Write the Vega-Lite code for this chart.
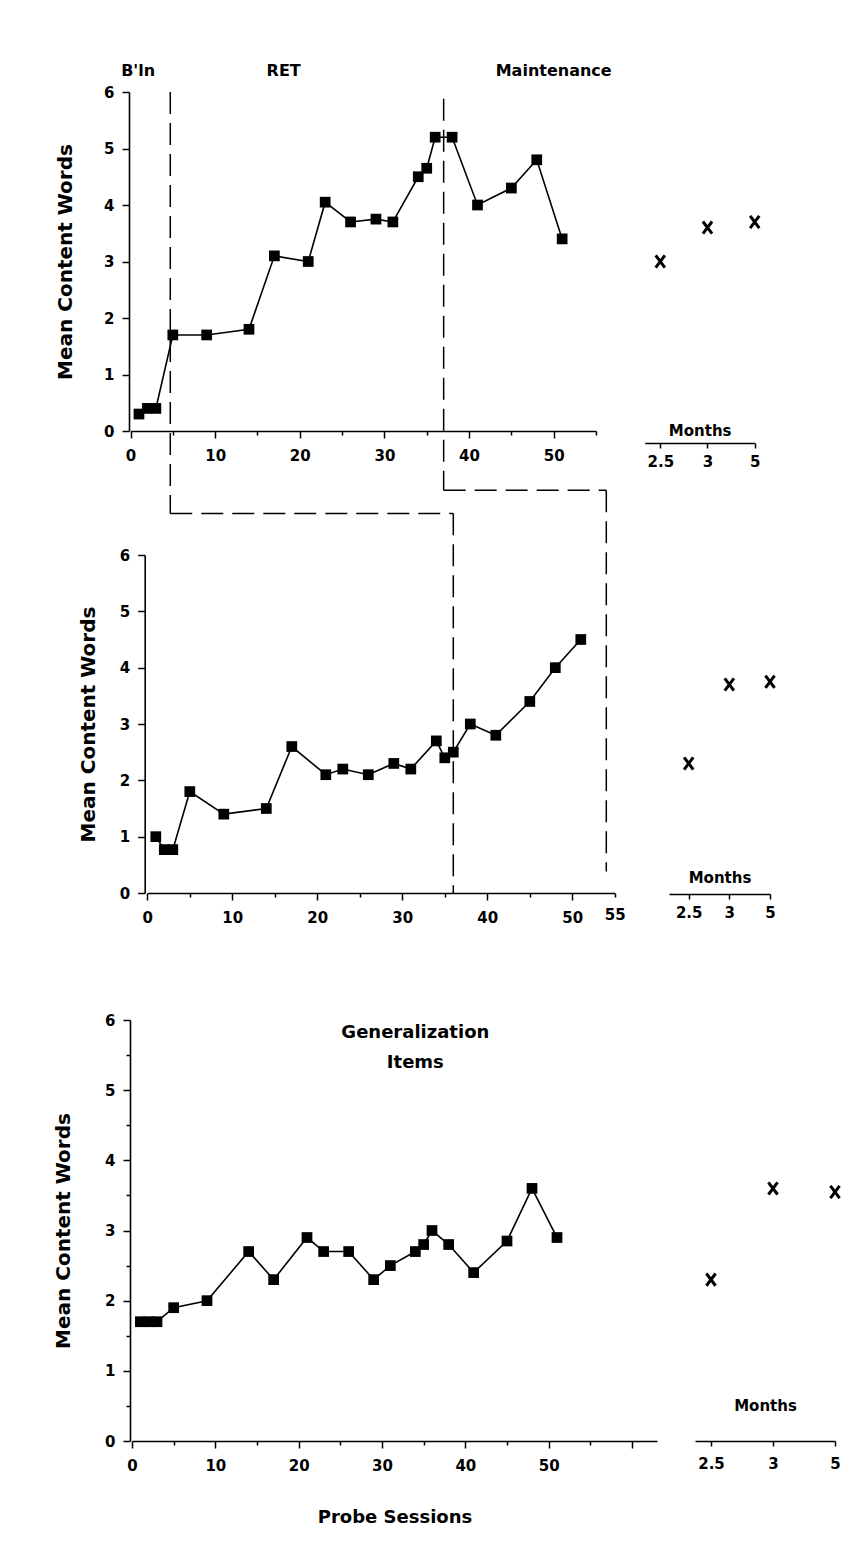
{
  "$schema": "https://vega.github.io/schema/vega-lite/v6.json",
  "background": "white",
  "padding": {"left": 53, "top": 0, "right": 5, "bottom": 5},
  "config": {
    "view": {"stroke": null},
    "axis": {
      "domainColor": "black", "domainWidth": 1.6, "tickColor": "black", "tickWidth": 1.5,
      "labelColor": "black", "labelFont": "DejaVu Sans", "labelFontWeight": "bold", "labelFontSize": 15,
      "titleFont": "DejaVu Sans", "titleFontWeight": "bold", "titleColor": "black",
      "grid": false, "labelOverlap": false, "labelFlush": false
    }
  },
  "datasets": {
    "p1": [
      {"session": 1, "value": 0.3}, {"session": 2, "value": 0.4}, {"session": 3, "value": 0.4},
      {"session": 5, "value": 1.7}, {"session": 9, "value": 1.7}, {"session": 14, "value": 1.8},
      {"session": 17, "value": 3.1}, {"session": 21, "value": 3.0}, {"session": 23, "value": 4.05},
      {"session": 26, "value": 3.7}, {"session": 29, "value": 3.75}, {"session": 31, "value": 3.7},
      {"session": 34, "value": 4.5}, {"session": 35, "value": 4.65}, {"session": 36, "value": 5.2},
      {"session": 38, "value": 5.2}, {"session": 41, "value": 4.0}, {"session": 45, "value": 4.3},
      {"session": 48, "value": 4.8}, {"session": 51, "value": 3.4}
    ],
    "p2": [
      {"session": 1, "value": 1.0}, {"session": 2, "value": 0.77}, {"session": 3, "value": 0.77},
      {"session": 5, "value": 1.8}, {"session": 9, "value": 1.4}, {"session": 14, "value": 1.5},
      {"session": 17, "value": 2.6}, {"session": 21, "value": 2.1}, {"session": 23, "value": 2.2},
      {"session": 26, "value": 2.1}, {"session": 29, "value": 2.3}, {"session": 31, "value": 2.2},
      {"session": 34, "value": 2.7}, {"session": 35, "value": 2.4}, {"session": 36, "value": 2.5},
      {"session": 38, "value": 3.0}, {"session": 41, "value": 2.8}, {"session": 45, "value": 3.4},
      {"session": 48, "value": 4.0}, {"session": 51, "value": 4.5}
    ],
    "p3": [
      {"session": 1, "value": 1.7}, {"session": 2, "value": 1.7}, {"session": 3, "value": 1.7},
      {"session": 5, "value": 1.9}, {"session": 9, "value": 2.0}, {"session": 14, "value": 2.7},
      {"session": 17, "value": 2.3}, {"session": 21, "value": 2.9}, {"session": 23, "value": 2.7},
      {"session": 26, "value": 2.7}, {"session": 29, "value": 2.3}, {"session": 31, "value": 2.5},
      {"session": 34, "value": 2.7}, {"session": 35, "value": 2.8}, {"session": 36, "value": 3.0},
      {"session": 38, "value": 2.8}, {"session": 41, "value": 2.4}, {"session": 45, "value": 2.85},
      {"session": 48, "value": 3.6}, {"session": 51, "value": 2.9}
    ],
    "fu1": [{"month": "2.5", "value": 3.0}, {"month": "3", "value": 3.6}, {"month": "5", "value": 3.7}],
    "fu2": [{"month": "2.5", "value": 2.3}, {"month": "3", "value": 3.7}, {"month": "5", "value": 3.75}],
    "fu3": [{"month": "2.5", "value": 2.3}, {"month": "3", "value": 3.6}, {"month": "5", "value": 3.55}],
    "phase1": [
      {"segment": "baseline end", "session": 4.7, "session2": 4.7, "value": 6.0, "value2": -1.46},
      {"segment": "baseline link", "session": 4.7, "session2": 38.1, "value": -1.46, "value2": -1.46},
      {"segment": "training end", "session": 37, "session2": 37, "value": 5.88, "value2": -1.05},
      {"segment": "training link", "session": 37, "session2": 56.2, "value": -1.05, "value2": -1.05}
    ],
    "phase2": [
      {"segment": "baseline end", "session": 36, "session2": 36, "value": 6.74, "value2": 0},
      {"segment": "training end", "session": 54, "session2": 54, "value": 7.15, "value2": 0.38}
    ],
    "labels1": [
      {"label": "B'ln", "session": 0.9, "value": 6.38},
      {"label": "RET", "session": 18.1, "value": 6.38},
      {"label": "Maintenance", "session": 50, "value": 6.38}
    ],
    "labels3": [
      {"label": "Generalization\nItems", "session": 34, "value": 5.95}
    ]
  },
  "columns": 2,
  "spacing": 0,
  "bounds": "flush",
  "align": "each",
  "concat": [
    {
      "width": 530, "height": 431,
      "layer": [
        {
          "data": {"name": "phase1"},
          "mark": {"type": "rule", "color": "black", "strokeWidth": 1.5, "strokeDash": [22, 9]},
          "encoding": {
            "x": {"field": "session", "type": "quantitative", "title": null, "scale": {"domain": [0, 55], "range": [27.5, 493], "nice": false, "zero": false}},
            "x2": {"field": "session2"},
            "y": {"field": "value", "type": "quantitative", "title": "Mean Content Words", "scale": {"domain": [0, 6], "range": [431, 92], "nice": false}},
            "y2": {"field": "value2"}
          }
        },
        {
          "data": {"name": "p1"},
          "mark": {"type": "line", "color": "black", "strokeWidth": 1.6, "point": {"shape": "square", "filled": true, "size": 115, "color": "black", "opacity": 1}},
          "encoding": {
            "x": {"field": "session", "type": "quantitative", "title": null,
              "scale": {"domain": [0, 55], "range": [27.5, 493], "nice": false, "zero": false},
              "axis": {"values": [0, 5, 10, 15, 20, 25, 30, 35, 40, 45, 50, 55], "labelExpr": "datum.value % 10 === 0 ? format(datum.value, 'd') : ''", "tickSize": {"condition": {"test": "datum.value % 10 === 0", "value": 7}, "value": 4}, "labelPadding": 10}},
            "y": {"field": "value", "type": "quantitative", "title": "Mean Content Words",
              "scale": {"domain": [0, 6], "range": [431, 92], "nice": false},
              "axis": {"values": [0, 0.5, 1, 1.5, 2, 2.5, 3, 3.5, 4, 4.5, 5, 5.5, 6], "labelExpr": "datum.value % 1 === 0 ? format(datum.value, 'd') : ''", "tickSize": {"condition": {"test": "datum.value % 1 === 0", "value": 7}, "value": 4}, "labelPadding": 8, "offset": -26, "titleFontSize": 20, "titleX": -54}}
          }
        },
        {
          "data": {"name": "labels1"},
          "mark": {"type": "text", "font": "DejaVu Sans", "fontSize": 16, "fontWeight": "bold", "align": "center", "baseline": "middle", "color": "black"},
          "encoding": {
            "x": {"field": "session", "type": "quantitative", "title": null, "scale": {"domain": [0, 55], "range": [27.5, 493], "nice": false, "zero": false}},
            "y": {"field": "value", "type": "quantitative", "title": "Mean Content Words", "scale": {"domain": [0, 6], "range": [431, 92], "nice": false}},
            "text": {"field": "label"}
          }
        }
      ]
    },
    {
      "width": 214, "height": 431,
      "data": {"name": "fu1"},
      "mark": {"type": "point", "shape": "M-0.75,-1L0.75,1M-0.75,1L0.75,-1", "size": 150, "strokeWidth": 3, "filled": false, "color": "black", "opacity": 1},
      "encoding": {
        "x": {"field": "month", "type": "ordinal", "sort": null,
          "scale": {"type": "point", "domain": ["2.5", "3", "5"], "range": [11.7, 121.7], "padding": 0.165, "align": 1},
          "axis": {"title": "Months", "titleY": -5, "titleBaseline": "bottom", "titleFontSize": 15, "offset": 12, "tickSize": 5, "labelPadding": 6, "labelAngle": 0}},
        "y": {"field": "value", "type": "quantitative", "scale": {"domain": [0, 6], "range": [431, 92], "nice": false}, "axis": null}
      }
    },
    {
      "width": 530, "height": 462,
      "layer": [
        {
          "data": {"name": "phase2"},
          "mark": {"type": "rule", "color": "black", "strokeWidth": 1.5, "strokeDash": [22, 9]},
          "encoding": {
            "x": {"field": "session", "type": "quantitative", "title": null, "scale": {"domain": [0, 55], "range": [44.3, 511.8], "nice": false, "zero": false}},
            "x2": {"field": "session2"},
            "y": {"field": "value", "type": "quantitative", "title": "Mean Content Words", "scale": {"domain": [0, 6], "range": [462, 124], "nice": false}},
            "y2": {"field": "value2"}
          }
        },
        {
          "data": {"name": "p2"},
          "mark": {"type": "line", "color": "black", "strokeWidth": 1.6, "point": {"shape": "square", "filled": true, "size": 115, "color": "black", "opacity": 1}},
          "encoding": {
            "x": {"field": "session", "type": "quantitative", "title": null,
              "scale": {"domain": [0, 55], "range": [44.3, 511.8], "nice": false, "zero": false},
              "axis": {"values": [0, 5, 10, 15, 20, 25, 30, 35, 40, 45, 50, 55], "labelExpr": "datum.value % 10 === 0 || datum.value === 55 ? format(datum.value, 'd') : ''", "tickSize": {"condition": {"test": "datum.value % 10 === 0", "value": 7}, "value": 4}, "labelPadding": 10}},
            "y": {"field": "value", "type": "quantitative", "title": "Mean Content Words",
              "scale": {"domain": [0, 6], "range": [462, 124], "nice": false},
              "axis": {"values": [0, 0.5, 1, 1.5, 2, 2.5, 3, 3.5, 4, 4.5, 5, 5.5, 6], "labelExpr": "datum.value % 1 === 0 ? format(datum.value, 'd') : ''", "tickSize": {"condition": {"test": "datum.value % 1 === 0", "value": 7}, "value": 4}, "labelPadding": 8, "offset": -41.7, "titleFontSize": 20, "titleX": -46}}
          }
        }
      ]
    },
    {
      "width": 214, "height": 462,
      "data": {"name": "fu2"},
      "mark": {"type": "point", "shape": "M-0.75,-1L0.75,1M-0.75,1L0.75,-1", "size": 150, "strokeWidth": 3, "filled": false, "color": "black", "opacity": 1},
      "encoding": {
        "x": {"field": "month", "type": "ordinal", "sort": null,
          "scale": {"type": "point", "domain": ["2.5", "3", "5"], "range": [36, 137], "padding": 0.242, "align": 1},
          "axis": {"title": "Months", "titleY": -9, "titleBaseline": "bottom", "titleFontSize": 15, "offset": 1, "tickSize": 5, "labelPadding": 6, "labelAngle": 0}},
        "y": {"field": "value", "type": "quantitative", "scale": {"domain": [0, 6], "range": [462, 124], "nice": false}, "axis": null}
      }
    },
    {
      "width": 530, "height": 548,
      "layer": [
        {
          "data": {"name": "p3"},
          "mark": {"type": "line", "color": "black", "strokeWidth": 1.6, "point": {"shape": "square", "filled": true, "size": 115, "color": "black", "opacity": 1}},
          "encoding": {
            "x": {"field": "session", "type": "quantitative", "title": "Probe Sessions",
              "scale": {"domain": [0, 63], "range": [29, 554], "nice": false, "zero": false},
              "axis": {"values": [0, 5, 10, 15, 20, 25, 30, 35, 40, 45, 50, 55, 60], "labelExpr": "datum.value % 10 === 0 && datum.value <= 50 ? format(datum.value, 'd') : ''", "tickSize": {"condition": {"test": "datum.value % 10 === 0", "value": 7}, "value": 4}, "labelPadding": 10, "titleFontSize": 18, "titlePadding": 35}},
            "y": {"field": "value", "type": "quantitative", "title": "Mean Content Words",
              "scale": {"domain": [0, 6], "range": [548, 127], "nice": false},
              "axis": {"values": [0, 0.5, 1, 1.5, 2, 2.5, 3, 3.5, 4, 4.5, 5, 5.5, 6], "labelExpr": "datum.value % 1 === 0 ? format(datum.value, 'd') : ''", "tickSize": {"condition": {"test": "datum.value % 1 === 0", "value": 7}, "value": 4}, "labelPadding": 8, "offset": -27, "titleFontSize": 20, "titleX": -57}}
          }
        },
        {
          "data": {"name": "labels3"},
          "mark": {"type": "text", "font": "DejaVu Sans", "fontSize": 18, "fontWeight": "bold", "align": "center", "baseline": "top", "lineBreak": "\n", "lineHeight": 30, "color": "black"},
          "encoding": {
            "x": {"field": "session", "type": "quantitative", "title": "Probe Sessions", "scale": {"domain": [0, 63], "range": [29, 554], "nice": false, "zero": false}},
            "y": {"field": "value", "type": "quantitative", "title": "Mean Content Words", "scale": {"domain": [0, 6], "range": [548, 127], "nice": false}},
            "text": {"field": "label"}
          }
        }
      ]
    },
    {
      "width": 214, "height": 548,
      "data": {"name": "fu3"},
      "mark": {"type": "point", "shape": "M-0.75,-1L0.75,1M-0.75,1L0.75,-1", "size": 150, "strokeWidth": 3, "filled": false, "color": "black", "opacity": 1},
      "encoding": {
        "x": {"field": "month", "type": "ordinal", "sort": null,
          "scale": {"type": "point", "domain": ["2.5", "3", "5"], "range": [62, 202], "padding": 0.129, "align": 1},
          "axis": {"title": "Months", "titleY": -28, "titleBaseline": "bottom", "titleFontSize": 15, "offset": 0, "tickSize": 5, "labelPadding": 10, "labelAngle": 0}},
        "y": {"field": "value", "type": "quantitative", "scale": {"domain": [0, 6], "range": [548, 127], "nice": false}, "axis": null}
      }
    }
  ]
}
